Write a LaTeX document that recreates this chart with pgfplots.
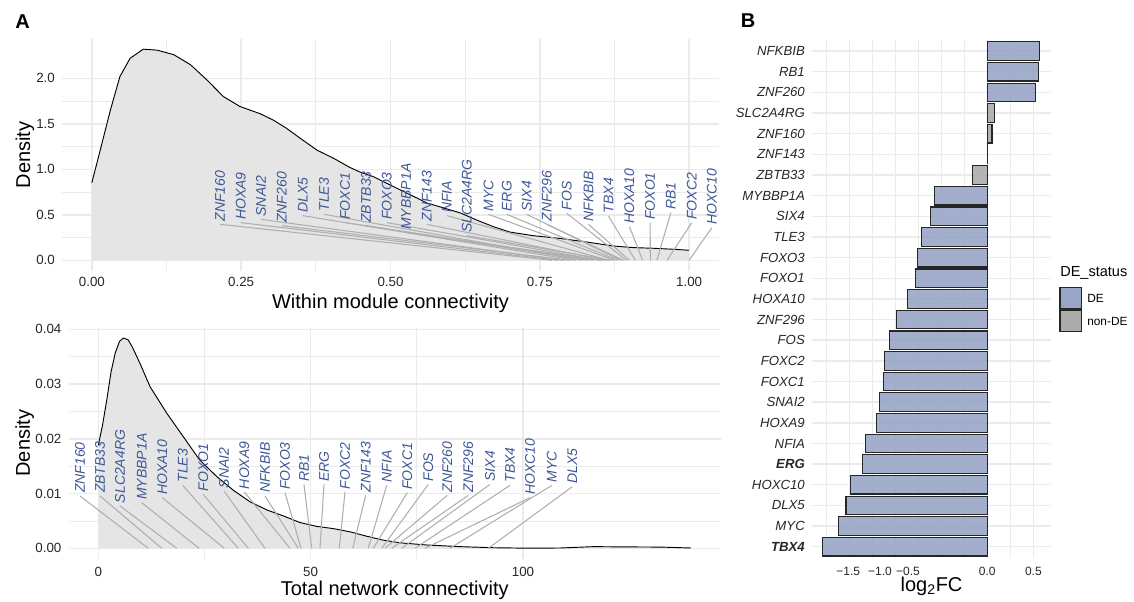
\documentclass[border=0pt]{standalone}
\usepackage{fontspec}
\setmainfont{Liberation Sans}
\usepackage{pgfplots}
\usepackage{pgfplotstable}
\pgfplotsset{compat=1.18}

\definecolor{gridgrey}{RGB}{235,235,235}
\definecolor{densfill}{RGB}{229,229,229}
\definecolor{labblue}{RGB}{62,88,150}
\definecolor{segcol}{RGB}{175,175,175}
\definecolor{debar}{RGB}{152,165,198}
\definecolor{nonde}{RGB}{172,172,172}

% density of within module connectivity
\pgfplotstableread{
x y
0 0.853
0.014 1.21
0.031 1.65
0.047 2.02
0.064 2.22
0.086 2.32
0.109 2.31
0.137 2.26
0.165 2.15
0.193 1.98
0.220 1.80
0.248 1.69
0.282 1.61
0.304 1.54
0.326 1.45
0.349 1.34
0.377 1.21
0.405 1.12
0.432 1.02
0.449 0.97
0.471 0.92
0.505 0.81
0.561 0.63
0.617 0.52
0.645 0.44
0.672 0.37
0.700 0.31
0.739 0.27
0.784 0.24
0.829 0.20
0.873 0.157
0.907 0.139
0.940 0.132
0.974 0.121
1.0 0.11
}\densA

% density of total network connectivity
\pgfplotstableread{
x y
0 0.0188
1.0 0.0225
2.0 0.0271
3.0 0.0322
4.0 0.0357
5.0 0.0378
5.9 0.0384
7.0 0.0381
8.0 0.0368
9.8 0.0338
12.2 0.0295
16.1 0.0247
20.0 0.0204
23.9 0.0161
27.9 0.0131
31.8 0.0106
35.7 0.0085
39.7 0.0070
43.6 0.0059
47.5 0.0047
51.4 0.0040
55.3 0.0036
59.3 0.0030
63.2 0.0022
67.0 0.0015
71.0 0.0010
77.3 0.0006
85.2 0.0003
93.0 0.0001
100.9 0.00002
108.7 0.00005
116.6 0.0003
124.4 0.00025
132.3 0.00022
139.6 0.00005
}\densB

% log2FC, categories bottom (1) to top (25)
\pgfplotstableread{
y v
1 -1.793
2 -1.62
3 -1.536
4 -1.489
5 -1.359
6 -1.326
7 -1.206
8 -1.17
9 -1.127
10 -1.116
11 -1.061
12 -0.985
13 -0.866
14 -0.779
15 -0.757
16 -0.713
17 -0.62
18 -0.572
23 0.522
24 0.554
25 0.565
}\deTab
\pgfplotstableread{
y v
19 -0.159
20 0.003
21 0.051
22 0.076
}\nondeTab

\pgfplotsset{
  panel/.style={scale only axis, anchor=north west, clip=false,
    axis line style={draw=none}, tick style={draw=none},
    grid=both,
    major grid style={gridgrey, line width=1.1pt},
    minor grid style={gridgrey, line width=0.55pt},
    ticklabel style={font=\fontsize{10}{12}\selectfont, text=black!85},
    /pgf/number format/assume math mode=true,
    label style={font=\fontsize{15}{18}\selectfont},
  },
}
\tikzset{
  genelab/.style={rotate=90, anchor=west, inner sep=0pt, text=labblue,
    font=\itshape\fontsize{10.5}{12}\selectfont},
}
\newcommand{\glab}[4]{%
  \node[genelab] (g#1) at (axis cs:#2,#3) {#1};
  \draw[segcol, line width=0.8pt] ([yshift=-2pt]g#1.west) -- (axis cs:#4,0);}

\begin{document}
\begin{tikzpicture}
\path[use as bounding box] (0,0) rectangle (850.5pt,-450.75pt);

\node[anchor=base west, inner sep=0pt, font=\bfseries\fontsize{15}{18}\selectfont] at (11.25pt,-21.2pt) {A};
\node[anchor=base west, inner sep=0pt, font=\bfseries\fontsize{15}{18}\selectfont] at (555.5pt,-20.6pt) {B};

% ---- A top
\begin{axis}[panel, at={(46.5pt,-29.25pt)}, width=492.75pt, height=173.9pt,
  xmin=-0.05, xmax=1.05, ymin=-0.1165, ymax=2.432,
  xtick={0,0.25,0.5,0.75,1}, minor x tick num=1,
  ytick={0,0.5,1,1.5,2}, minor y tick num=1,
  xticklabel style={anchor=north, inner sep=0pt, yshift=-4.4pt,
    /pgf/number format/fixed, /pgf/number format/fixed zerofill, /pgf/number format/precision=2},
  yticklabel style={anchor=east, inner sep=0pt, xshift=-5.2pt,
    /pgf/number format/fixed, /pgf/number format/fixed zerofill, /pgf/number format/precision=1},
  xlabel={Within module connectivity}, ylabel={Density},
  xlabel style={at={(axis description cs:0.5,-0.161)}, anchor=base},
  ylabel style={at={(axis description cs:-0.0487,0.5)}, anchor=base},
]
\addplot[fill=densfill, draw=none] table {\densA} \closedcycle;
\addplot[black, line width=0.7pt] table {\densA};
\glab{ZNF160}{0.2148}{0.424}{0.77}
\glab{HOXA9}{0.2495}{0.443}{0.78}
\glab{SNAI2}{0.2834}{0.479}{0.79}
\glab{ZNF260}{0.3181}{0.410}{0.80}
\glab{DLX5}{0.3533}{0.520}{0.81}
\glab{TLE3}{0.3889}{0.534}{0.82}
\glab{FOXC1}{0.4241}{0.443}{0.83}
\glab{ZBTB33}{0.4592}{0.410}{0.84}
\glab{FOXO3}{0.4939}{0.443}{0.85}
\glab{MYBBP1A}{0.5262}{0.333}{0.855}
\glab{ZNF143}{0.5609}{0.424}{0.86}
\glab{NFIA}{0.5943}{0.520}{0.865}
\glab{SLC2A4RG}{0.6278}{0.300}{0.87}
\glab{MYC}{0.6640}{0.534}{0.875}
\glab{ERG}{0.6948}{0.534}{0.88}
\glab{SIX4}{0.7283}{0.534}{0.885}
\glab{ZNF296}{0.7618}{0.424}{0.89}
\glab{FOS}{0.7952}{0.545}{0.895}
\glab{NFKBIB}{0.8314}{0.424}{0.90}
\glab{TBX4}{0.8649}{0.516}{0.91}
\glab{HOXA10}{0.9000}{0.399}{0.922}
\glab{FOXO1}{0.9347}{0.443}{0.935}
\glab{RB1}{0.9694}{0.553}{0.946}
\glab{FOXC2}{1.0045}{0.443}{0.963}
\glab{HOXC10}{1.0380}{0.388}{1.0}
\end{axis}

% ---- A bottom
\begin{axis}[panel, at={(51.45pt,-245.7pt)}, width=489.15pt, height=173.3pt,
  xmin=-6.99, xmax=146.57, ymin=-0.0019, ymax=0.04031,
  xtick={0,50,100}, minor x tick num=1,
  ytick={0,0.01,0.02,0.03,0.04}, minor y tick num=1,
  xticklabel style={anchor=north, inner sep=0pt, yshift=-6pt},
  yticklabel style={anchor=east, inner sep=0pt, xshift=-5.2pt,
    /pgf/number format/fixed, /pgf/number format/fixed zerofill, /pgf/number format/precision=2},
  scaled y ticks=false,
  xlabel={Total network connectivity}, ylabel={Density},
  xlabel style={at={(axis description cs:0.5,-0.161)}, anchor=base},
  ylabel style={at={(axis description cs:-0.0592,0.5)}, anchor=base},
]
\addplot[fill=densfill, draw=none] table {\densB} \closedcycle;
\addplot[black, line width=0.7pt] table {\densB};
\glab{ZNF160}{-4.31}{0.01005}{11.77}
\glab{ZBTB33}{0.40}{0.01005}{14.93}
\glab{SLC2A4RG}{5.11}{0.00822}{18.46}
\glab{MYBBP1A}{10.22}{0.00882}{23.71}
\glab{HOXA10}{15.07}{0.00974}{29.67}
\glab{TLE3}{19.87}{0.01198}{32.96}
\glab{FOXO1}{24.72}{0.01034}{35.32}
\glab{SNAI2}{29.60}{0.01096}{39.25}
\glab{HOXA9}{34.38}{0.01078}{45.13}
\glab{NFKBIB}{39.25}{0.01005}{47.09}
\glab{FOXO3}{43.96}{0.01065}{47.73}
\glab{RB1}{48.43}{0.01216}{50.25}
\glab{ERG}{53.14}{0.01216}{52.20}
\glab{FOXC2}{58.09}{0.01078}{56.75}
\glab{ZNF143}{62.96}{0.01016}{59.90}
\glab{NFIA}{67.91}{0.01198}{63.57}
\glab{FOXC1}{72.76}{0.01065}{64.75}
\glab{FOS}{77.70}{0.01216}{66.73}
\glab{ZNF260}{82.18}{0.01016}{67.51}
\glab{ZNF296}{87.12}{0.01016}{69.08}
\glab{SIX4}{92.23}{0.01216}{71.44}
\glab{TBX4}{96.94}{0.01198}{74.57}
\glab{HOXC10}{101.65}{0.00974}{76.92}
\glab{MYC}{106.76}{0.01198}{82.81}
\glab{DLX5}{111.61}{0.01174}{91.83}
\end{axis}

% ---- B
\begin{axis}[panel, at={(609pt,-29.25pt)}, width=179.25pt, height=389.25pt,
  xmin=-1.905, xmax=0.692, ymin=0.453, ymax=25.586,
  xtick={-1.5,-1,-0.5,0,0.5}, xticklabels={},
  minor xtick={-1.75,-1.25,-0.75,-0.25,0.25},
  extra x ticks={-1.512,-1.166,-0.862,0,0.5},
  extra x tick labels={−1.5,−1.0,−0.5,0.0,0.5},
  extra x tick style={grid=none},
  ytick={1,...,25},
  yticklabels={{\bfseries TBX4},MYC,DLX5,HOXC10,{\bfseries ERG},NFIA,HOXA9,SNAI2,FOXC1,FOXC2,FOS,ZNF296,HOXA10,FOXO1,FOXO3,TLE3,SIX4,MYBBP1A,ZBTB33,ZNF143,ZNF160,SLC2A4RG,ZNF260,RB1,NFKBIB},
  xticklabel style={anchor=north, inner sep=0pt, yshift=-6.5pt, font=\fontsize{9}{11}\selectfont},
  yticklabel style={anchor=east, inner sep=0pt, xshift=-5.2pt, font=\itshape\fontsize{9.9}{12}\selectfont},
  xlabel={log\textsubscript{2}FC},
  xlabel style={at={(axis description cs:0.5,-0.065)}, anchor=base},
]
\addplot[xbar, bar width=0.9, bar shift=0pt, fill=debar, fill opacity=0.9, draw=black!85, line width=0.9pt] table[x=v, y=y] {\deTab};
\addplot[xbar, bar width=0.9, bar shift=0pt, fill=nonde, fill opacity=0.9, draw=black!85, line width=0.9pt] table[x=v, y=y] {\nondeTab};
\end{axis}

% legend
\node[anchor=west, inner sep=0pt, font=\fontsize{10.9}{13}\selectfont] at (795pt,-204.75pt) {DE\_status};
\draw[fill=debar, draw=black!85, line width=0.9pt] (795pt,-215.5pt) rectangle (811.3pt,-231.2pt);
\draw[fill=nonde, draw=black!85, line width=0.9pt] (795pt,-232.5pt) rectangle (811.3pt,-248.8pt);
\node[anchor=west, inner sep=0pt, font=\fontsize{8.9}{11}\selectfont] at (815.25pt,-223.5pt) {DE};
\node[anchor=west, inner sep=0pt, font=\fontsize{8.9}{11}\selectfont] at (815.25pt,-240.75pt) {non-DE};
\end{tikzpicture}
\end{document}
